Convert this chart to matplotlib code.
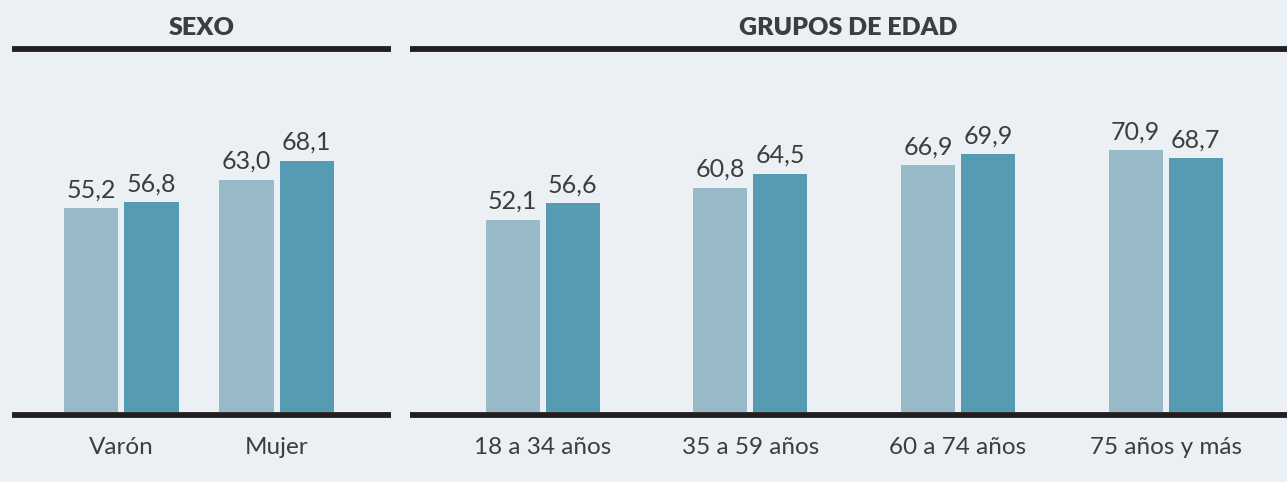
import matplotlib
matplotlib.use('Agg')
import matplotlib.pyplot as plt
import numpy as np

# datos
sexo_labels = ['Varón', 'Mujer']
sexo_a = [55.2, 63.0]
sexo_b = [56.8, 68.1]

edad_labels = ['18 a 34 años', '35 a 59 años', '60 a 74 años', '75 años y más']
edad_a = [52.1, 60.8, 66.9, 70.9]
edad_b = [56.6, 64.5, 69.9, 68.7]

bg = '#eaf0f4'
c_light = '#97b9c8'
c_dark = '#559bb1'
c_line = '#231f20'
c_text = '#3d3d3d'

plt.rcParams['font.family'] = ['Lato', 'DejaVu Sans']

W, H = 1287, 482
fig = plt.figure(figsize=(W / 100, H / 100), dpi=100, facecolor=bg)

px_unit = 3.69      # pixels per percentage point
y_base = 415        # baseline (px from top)
y_top = 49          # top rule (px from top)


def panel(x0, x1, c0, step, labels, a, b, title):
    ax = fig.add_axes([x0 / W, (H - y_base) / H, (x1 - x0) / W, (y_base - y_top) / H])
    ax.set_facecolor(bg)
    ax.set_xlim((x0 - c0) / step, (x1 - c0) / step)
    ax.set_ylim(-3 / px_unit, (y_base - y_top - 3) / px_unit)
    bw = 54 / step
    off = 30 / step
    x = np.arange(len(labels))
    ax.bar(x - off, a, bw, bottom=0, color=c_light, zorder=2)
    ax.bar(x + off, b, bw, bottom=0, color=c_dark, zorder=2)
    for xi, v in zip(x - off, a):
        ax.annotate(f'{v:.1f}'.replace('.', ','), (xi, v), xytext=(0, 5), textcoords='offset points',
                    ha='center', va='bottom', fontsize=18, color=c_text)
    for xi, v in zip(x + off, b):
        ax.annotate(f'{v:.1f}'.replace('.', ','), (xi, v), xytext=(0, 5), textcoords='offset points',
                    ha='center', va='bottom', fontsize=18, color=c_text)
    for s in ['left', 'right']:
        ax.spines[s].set_visible(False)
    for s in ['top', 'bottom']:
        ax.spines[s].set_color(c_line)
        ax.spines[s].set_linewidth(4.2)
        ax.spines[s].set_capstyle('butt')
    ax.set_yticks([])
    ax.set_xticks(x)
    ax.set_xticklabels(labels, fontsize=17.5, color=c_text)
    ax.tick_params(axis='x', length=0, pad=16)
    ax.set_title(title, fontsize=18, fontweight='heavy', color=c_text, pad=10)
    return ax


panel(12, 391, 121.5, 155, sexo_labels, sexo_a, sexo_b, 'SEXO')
panel(410, 1287, 542.5, 207.7, edad_labels, edad_a, edad_b, 'GRUPOS DE EDAD')

fig.savefig('out.png', dpi=100, facecolor=bg)
